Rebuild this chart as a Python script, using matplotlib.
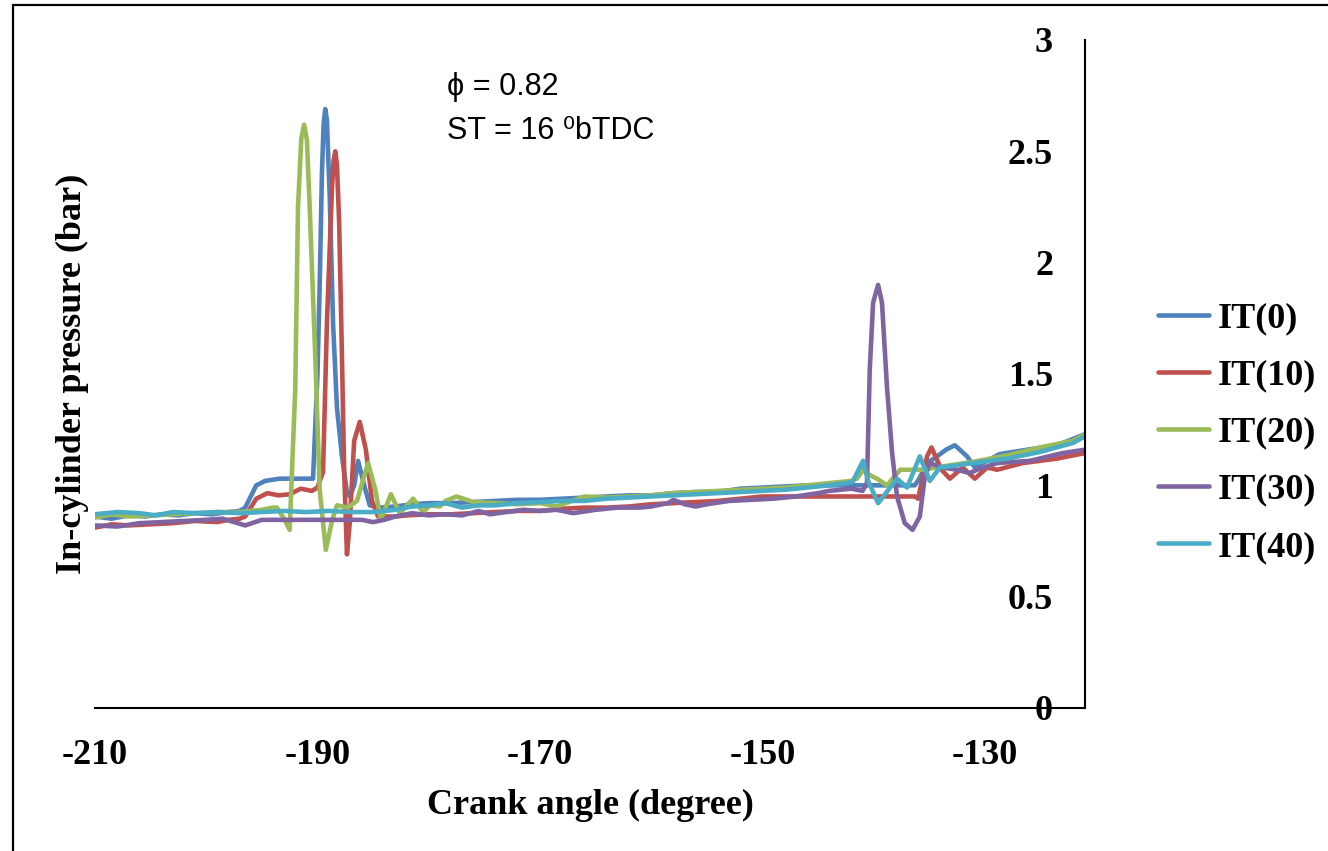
import matplotlib
matplotlib.use('Agg')
import matplotlib.pyplot as plt
from matplotlib.font_manager import FontProperties
from matplotlib.patches import Rectangle

# ---- data (crank angle in degree, pressure in bar) ----
x_it0 = [-210, -208.5, -207, -205.5, -204, -202.5, -201, -199.5, -198, -197, -196.5, -196, -195.5,
         -194.7, -193.4, -192, -191, -190.4, -190.0, -189.8, -189.6, -189.45, -189.3, -189.15, -189.05,
         -188.9, -188.6, -188.25, -187.8, -187.35, -187.1, -186.7, -186.35, -185.8, -185.3, -184.5, -183,
         -181.5, -180, -178, -176, -174, -172, -170, -168, -166, -164, -162, -160, -158, -156, -154, -152,
         -150, -148, -146, -144, -142, -140, -138, -136.3, -135.9, -135.2, -134.3, -133.5, -132.7, -131.6,
         -130.9, -129.8, -128.7, -126.2, -123.5, -121]
y_it0 = [0.86, 0.85, 0.865, 0.86, 0.87, 0.865, 0.875, 0.87, 0.88, 0.885, 0.90, 0.95, 1.0,
         1.02, 1.03, 1.03, 1.03, 1.03, 1.5, 1.9, 2.4, 2.62, 2.69, 2.64, 2.5,
         2.3, 1.73, 1.35, 1.13, 0.97, 0.95, 1.0, 1.11, 1.0, 0.91, 0.9, 0.905,
         0.915, 0.92, 0.92, 0.925, 0.93, 0.935, 0.935, 0.94, 0.945, 0.95, 0.955, 0.955, 0.965, 0.97, 0.97, 0.985,
         0.99, 0.995, 1.0, 1.0, 1.0, 1.0, 1.0, 1.0, 1.03, 1.10, 1.13, 1.16, 1.18, 1.13,
         1.08, 1.11, 1.14, 1.16, 1.18, 1.23]

x_it10 = [-210, -208.5, -207, -205, -203, -201, -199, -198, -197, -196.5, -196, -195.5, -194.5, -193.5,
          -192.5, -191.5, -190.5, -190, -189.5, -189.15, -188.7, -188.55, -188.4, -188.25, -188.05, -187.8,
          -187.6, -187.35, -187.1, -186.7, -186.2, -185.65, -185.1, -184.55, -183, -182, -180, -178, -176,
          -174, -172, -170, -168, -166, -164, -162, -160, -158, -156, -154, -152, -150, -148, -146, -144,
          -142, -140, -138, -136.3, -136.0, -135.2, -134.8, -133.9, -133.15, -132.0, -130.9, -129.8, -128.9,
          -126.6, -123.5, -121]
y_it10 = [0.81, 0.825, 0.82, 0.825, 0.83, 0.84, 0.835, 0.845, 0.85, 0.86, 0.90, 0.94, 0.965, 0.955,
          0.96, 0.985, 0.975, 0.99, 1.06, 1.73, 2.33, 2.46, 2.50, 2.44, 2.18, 1.58,
          1.06, 0.69, 0.83, 1.20, 1.285, 1.16, 0.93, 0.86, 0.86, 0.865, 0.87, 0.87, 0.875,
          0.88, 0.885, 0.885, 0.895, 0.90, 0.90, 0.905, 0.915, 0.92, 0.925, 0.93, 0.94, 0.95, 0.95, 0.95, 0.95,
          0.95, 0.95, 0.95, 0.95, 0.94, 1.13, 1.17, 1.07, 1.03, 1.08, 1.03, 1.08, 1.07,
          1.10, 1.12, 1.145]

x_it20 = [-210, -208.5, -207, -205, -203, -201, -199, -197, -195, -194, -193.65, -193, -192.5, -192.0,
          -191.75, -191.45, -191.2, -190.95, -190.7, -190.2, -189.8, -189.25, -188.7, -188.25, -187.25,
          -186.45, -185.45, -184.8, -184.3, -183.4, -182.6, -181.4, -180.5, -179.9, -179, -178.5, -177.5,
          -176, -174, -172, -170, -168.5, -166, -164, -162, -160, -158, -156, -154, -152, -150, -148, -146,
          -144, -142, -141.5, -140.95, -140.5, -139.7, -138.8, -137.6, -135.6, -133.15, -131.1, -128.0,
          -125.05, -122.1, -121]
y_it20 = [0.855, 0.87, 0.86, 0.865, 0.87, 0.875, 0.88, 0.88, 0.89, 0.9, 0.9, 0.85, 0.80, 1.43,
          2.25, 2.56, 2.62, 2.55, 2.25, 1.58, 0.98, 0.71, 0.84, 0.91, 0.90,
          0.93, 1.10, 0.98, 0.845, 0.96, 0.875, 0.94, 0.88, 0.91, 0.905, 0.93, 0.95,
          0.925, 0.92, 0.915, 0.92, 0.905, 0.95, 0.945, 0.95, 0.955, 0.965, 0.97, 0.975, 0.98, 0.985, 0.99, 1.0,
          1.01, 1.02, 1.03, 1.07, 1.05, 1.03, 1.0, 1.07, 1.07, 1.09, 1.105, 1.135,
          1.17, 1.20, 1.23]

x_it30 = [-210, -208, -206, -204, -202, -200, -198.5, -197.5, -196.5, -195, -193, -191, -189, -187, -186,
          -185, -184, -183, -181.5, -180, -178.5, -177, -175.5, -174.5, -173, -171.5, -170, -168.5, -167,
          -165, -163, -161, -160, -158.5, -158, -157, -156, -155, -153, -151, -149, -147, -145, -144, -142,
          -141, -140.6, -140.35, -140.05, -139.6, -139.25, -138.8, -138.35, -137.9, -137.2, -136.5, -135.85,
          -135.4, -134.95, -133.8, -132.5, -131.35, -130.7, -128.9, -125.95, -123.0, -121]
y_it30 = [0.82, 0.815, 0.83, 0.835, 0.84, 0.845, 0.85, 0.835, 0.82, 0.845, 0.845, 0.845, 0.845, 0.845, 0.845,
          0.835, 0.845, 0.86, 0.875, 0.865, 0.87, 0.865, 0.885, 0.87, 0.88, 0.89, 0.885, 0.89, 0.875,
          0.89, 0.9, 0.9, 0.905, 0.92, 0.935, 0.915, 0.905, 0.915, 0.93, 0.935, 0.94, 0.95, 0.965, 0.975, 0.985,
          0.975, 1.01, 1.52, 1.82, 1.90, 1.82, 1.44, 1.15, 0.95, 0.83, 0.80, 0.86,
          1.04, 1.10, 1.08, 1.07, 1.055, 1.07, 1.10, 1.11, 1.145, 1.16]

x_it40 = [-210, -208, -206, -204.5, -203, -201, -199, -197, -195, -193, -191, -189, -187, -185, -183,
          -181.5, -180, -178.5, -177, -175.5, -174, -172, -170, -168, -166, -164, -162, -160, -158, -156,
          -154, -152, -150, -148, -146, -144, -142.5, -141.9, -140.95, -140.5, -139.6, -137.9, -137.0,
          -135.85, -134.95, -134.05, -132.5, -131.1, -128.0, -125.05, -122.1, -121]
y_it40 = [0.87, 0.88, 0.875, 0.865, 0.88, 0.875, 0.88, 0.875, 0.88, 0.885, 0.88, 0.885, 0.88, 0.88, 0.89,
          0.905, 0.91, 0.92, 0.90, 0.91, 0.91, 0.92, 0.925, 0.93, 0.93, 0.94, 0.945, 0.95, 0.955, 0.96,
          0.965, 0.97, 0.975, 0.98, 0.99, 1.0, 1.01, 1.015, 1.11, 1.02, 0.92, 1.03, 0.99,
          1.13, 1.02, 1.08, 1.09, 1.10, 1.12, 1.15, 1.19, 1.22]

labels = ['IT(0)', 'IT(10)', 'IT(20)', 'IT(30)', 'IT(40)']
colors = ['#4F81BD', '#C0504D', '#9BBB59', '#8064A2', '#4BACC6']
x_ticks = [-210, -190, -170, -150, -130]
y_ticks = [0, 0.5, 1, 1.5, 2, 2.5, 3]
y_tick_labels = ['0', '0.5', '1', '1.5', '2', '2.5', '3']

fp = FontProperties(family='Liberation Serif', weight='bold', size=26)

fig = plt.figure(figsize=(13.28, 8.51), dpi=100)
fig.patches.append(Rectangle((13 / 1328, -0.05), 1.2, 1.05 - 5 / 851, transform=fig.transFigure,
                             fill=False, edgecolor='black', linewidth=1.6))
ax = fig.add_axes([95 / 1328, 1 - 708 / 851, 990 / 1328, 668 / 851])

series = [(x_it0, y_it0), (x_it10, y_it10), (x_it20, y_it20), (x_it30, y_it30), (x_it40, y_it40)]
for (xs, ys), lab, c in zip(series, labels, colors):
    ax.plot(xs, ys, color=c, linewidth=3.3, label=lab, solid_joinstyle='round', solid_capstyle='round')

ax.set_xlim(-210, -121)
ax.set_ylim(0, 3)
ax.set_xticks(x_ticks)
ax.set_xticklabels([str(v) for v in x_ticks], fontproperties=fp)
ax.yaxis.tick_right()
ax.set_yticks(y_ticks)
ax.set_yticklabels(y_tick_labels, fontproperties=fp)
for lab in ax.get_yticklabels():
    lab.set_horizontalalignment('right')
ax.tick_params(axis='x', length=0, pad=22.5)
ax.tick_params(axis='y', length=0, pad=-23)

for s in ['top', 'left']:
    ax.spines[s].set_visible(False)
for s in ['right', 'bottom']:
    ax.spines[s].set_linewidth(1.5)
    ax.spines[s].set_color('black')

ax.set_xlabel('Crank angle (degree)', fontproperties=fp, labelpad=12)
ax.yaxis.set_label_position('left')
ax.set_ylabel('In-cylinder pressure (bar)', fontproperties=fp, labelpad=4)

ax.text(-178.4, 2.79, 'ϕ = 0.82', fontsize=22, family=['Liberation Sans', 'DejaVu Sans'], va='center')
ax.text(-178.4, 2.59, 'ST = 16 ⁰bTDC', fontsize=22, family=['Liberation Sans', 'DejaVu Sans'], va='center')

ax.legend(loc='center left', bbox_to_anchor=(1158 / 1328, 1 - 433 / 851), bbox_transform=fig.transFigure,
          frameon=False, prop=fp, handlelength=1.4, handletextpad=0.25, labelspacing=0.66,
          borderpad=0, borderaxespad=0)

plt.savefig('out.png', dpi=100)
plt.close()
